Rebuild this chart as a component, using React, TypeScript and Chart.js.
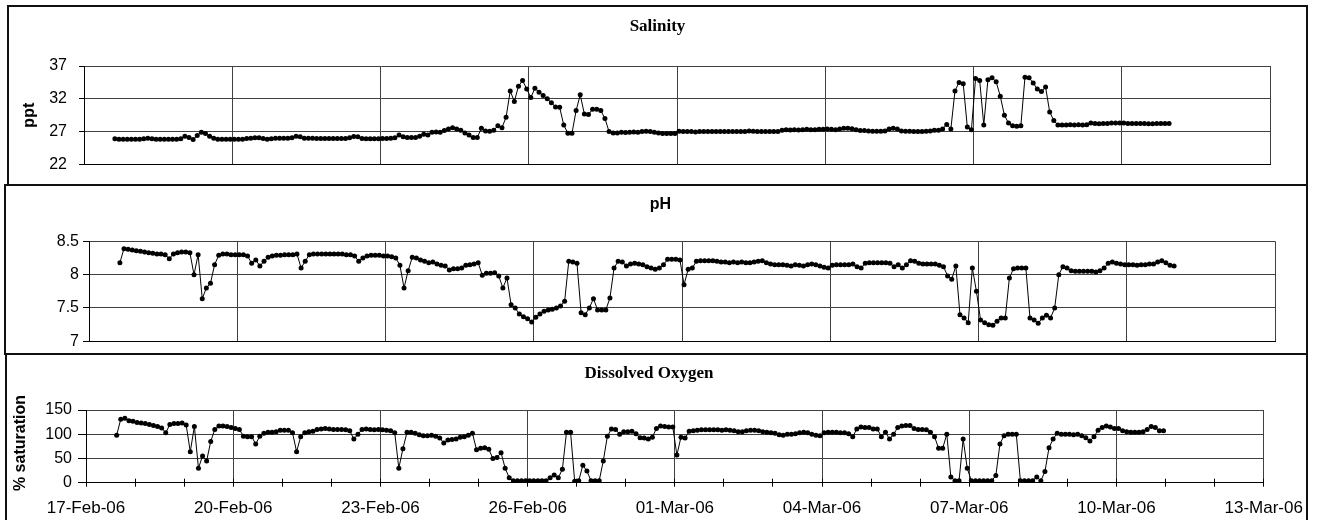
import React, { useEffect, useRef } from 'react';
import { Chart, registerables } from 'chart.js';

Chart.register(...registerables);

// Logger readings every 2 hours, first reading 17-Feb-06 15:00 (day 0.625 of the axis)
const START_DAY = 0.625;
const STEP_DAYS = 2 / 24;

const X_TICK_LABELS = ['17-Feb-06', '20-Feb-06', '23-Feb-06', '26-Feb-06', '01-Mar-06', '04-Mar-06', '07-Mar-06', '10-Mar-06', '13-Mar-06'];
const SAL_TICKS = [22, 27, 32, 37];
const PH_TICKS = [7, 7.5, 8, 8.5];
const DO_TICKS = [0, 50, 100, 150];

const TITLE_SAL = 'Salinity';
const TITLE_PH = 'pH';
const TITLE_DO = 'Dissolved Oxygen';
const YLABEL_SAL = 'ppt';
const YLABEL_DO = '% saturation';

const SALINITY = [
  25.9, 25.85, 25.85, 25.85, 25.85,
  25.85, 25.85, 25.9, 26.0, 25.9, 25.85, 25.85, 25.85, 25.85, 25.85, 25.85, 25.9,
  26.3, 26.1, 25.8, 26.4, 26.9, 26.7, 26.3, 26.0, 25.85, 25.85, 25.85, 25.85,
  25.85, 25.85, 25.85, 25.95, 26.0, 26.05, 26.05, 25.95, 25.85, 25.9, 26.0, 26.0,
  26.0, 26.0, 26.05, 26.3, 26.2, 26.0, 26.0, 26.0, 25.95, 25.95, 25.95, 25.95,
  25.95, 25.95, 25.95, 25.95, 26.05, 26.25, 26.2, 25.95, 25.9, 25.9, 25.9, 25.9,
  25.95, 25.95, 26.0, 26.05, 26.5, 26.2, 26.1, 26.1, 26.1, 26.3, 26.6, 26.5,
  26.9, 26.95, 26.9, 27.15, 27.4, 27.6, 27.4, 27.2, 26.8, 26.5, 26.1, 26.1,
  27.5, 27.1, 27.05, 27.2, 27.9, 27.6, 29.2, 33.2, 31.6, 33.9, 34.8, 33.5,
  32.2, 33.6, 33.0, 32.5, 32.0, 31.4, 30.75, 30.7, 28.0, 26.75, 26.75, 30.2,
  32.6, 29.7, 29.6, 30.4, 30.4, 30.2, 29.0, 27.0, 26.8, 26.8, 26.9, 26.85,
  26.9, 26.95, 26.9, 27.0, 27.05, 27.0, 26.9, 26.8, 26.7, 26.7, 26.7, 26.7,
  27.05, 27.0, 27.0, 27.0, 26.95, 27.0, 27.0, 27.0, 27.0, 27.0, 27.0, 27.0,
  27.0, 27.0, 27.0, 27.0, 27.0, 27.1, 27.05, 27.0, 27.0, 27.0, 27.0, 27.0,
  27.0, 27.2, 27.3, 27.25, 27.3, 27.25, 27.3, 27.35, 27.3, 27.3, 27.35, 27.35,
  27.4, 27.35, 27.3, 27.4, 27.5, 27.5, 27.45, 27.3, 27.15, 27.15, 27.1, 27.05,
  27.05, 27.05, 27.1, 27.4, 27.5, 27.4, 27.1, 27.05, 27.05, 27.0, 27.0, 27.0,
  27.05, 27.1, 27.2, 27.2, 27.4, 28.1, 27.4, 33.2, 34.5, 34.3, 27.7, 27.3,
  35.1, 34.8, 28.0, 34.9, 35.2, 34.6, 32.4, 29.5, 28.3, 27.9, 27.8, 27.9,
  35.3, 35.2, 34.4, 33.5, 33.1, 33.8, 30.0, 28.7, 28.0, 28.0, 28.0, 28.05,
  28.0, 28.05, 28.0, 28.05, 28.3, 28.25, 28.2, 28.25, 28.25, 28.3, 28.3, 28.3,
  28.3, 28.25, 28.25, 28.25, 28.25, 28.25, 28.2, 28.2, 28.25, 28.25, 28.25, 28.25,
];

const PH = [
  8.18, 8.39, 8.38, 8.37, 8.36,
  8.35, 8.34, 8.33, 8.32, 8.31, 8.31, 8.30, 8.24, 8.31, 8.33, 8.34, 8.34,
  8.33, 8.0, 8.3, 7.64, 7.8, 7.87, 8.15, 8.29, 8.31, 8.31, 8.3, 8.3,
  8.3, 8.3, 8.28, 8.17, 8.22, 8.13, 8.2, 8.26, 8.28, 8.29, 8.29, 8.3,
  8.3, 8.3, 8.31, 8.1, 8.2, 8.3, 8.31, 8.31, 8.31, 8.31, 8.31, 8.31,
  8.31, 8.31, 8.3, 8.3, 8.28, 8.2, 8.25, 8.28, 8.29, 8.29, 8.29, 8.28,
  8.28, 8.27, 8.25, 8.14, 7.8, 8.06, 8.26, 8.25, 8.22, 8.2, 8.18, 8.19,
  8.16, 8.14, 8.13, 8.07, 8.09, 8.09, 8.1, 8.14, 8.15, 8.16, 8.18, 7.99,
  8.02, 8.02, 8.03, 7.98, 7.8, 7.95, 7.55, 7.5, 7.41, 7.37, 7.34, 7.29,
  7.36, 7.41, 7.45, 7.47, 7.48, 7.5, 7.53, 7.6, 8.2, 8.19, 8.17, 7.43,
  7.4, 7.5, 7.64, 7.47, 7.47, 7.47, 7.65, 8.1, 8.2, 8.19, 8.13, 8.16,
  8.17, 8.16, 8.15, 8.12, 8.1, 8.08, 8.1, 8.15, 8.23, 8.23, 8.23, 8.22,
  7.85, 8.08, 8.1, 8.2, 8.21, 8.21, 8.21, 8.21, 8.2, 8.19, 8.19, 8.18,
  8.19, 8.18, 8.19, 8.18, 8.18, 8.19, 8.2, 8.21, 8.18, 8.16, 8.15, 8.15,
  8.15, 8.14, 8.13, 8.15, 8.14, 8.13, 8.15, 8.16, 8.15, 8.13, 8.11, 8.1,
  8.14, 8.15, 8.15, 8.15, 8.15, 8.16, 8.12, 8.1, 8.17, 8.18, 8.18, 8.18,
  8.18, 8.18, 8.17, 8.12, 8.15, 8.1, 8.15, 8.21, 8.2, 8.17, 8.16, 8.16,
  8.16, 8.16, 8.14, 8.12, 7.98, 7.93, 8.13, 7.4, 7.35, 7.28, 8.1, 7.75,
  7.32, 7.28, 7.25, 7.24, 7.3, 7.35, 7.35, 7.95, 8.09, 8.1, 8.1, 8.1,
  7.35, 7.32, 7.27, 7.35, 7.39, 7.35, 7.5, 8.0, 8.12, 8.1, 8.06, 8.05,
  8.05, 8.05, 8.05, 8.05, 8.04, 8.06, 8.1, 8.17, 8.19, 8.17, 8.16, 8.15,
  8.15, 8.15, 8.14, 8.15, 8.15, 8.16, 8.16, 8.19, 8.21, 8.18, 8.14, 8.13,
];

const DO_SAT = [
  98, 131, 133, 128, 127,
  124, 123, 122, 120, 118, 116, 113, 103, 120, 122, 122, 123,
  119, 64, 116, 30, 55, 45, 85, 110, 117, 117, 116, 114,
  112, 110, 96, 95, 95, 80, 96, 102, 104, 104, 105, 108,
  108, 108, 103, 64, 95, 103, 105, 106, 110, 111, 112, 111,
  110, 110, 110, 109, 107, 90, 100, 110, 111, 110, 109, 110,
  109, 108, 107, 103, 30, 70, 104, 104, 102, 99, 97, 97,
  98, 96, 92, 82, 88, 89, 90, 94, 95, 98, 102, 68,
  71, 72, 69, 50, 52, 62, 30, 10, 4, 4, 4, 4,
  4, 4, 4, 4, 4, 10, 16, 10, 28, 104, 104, 3,
  4, 36, 24, 4, 4, 4, 45, 96, 111, 110, 100, 105,
  105, 106, 101, 93, 92, 90, 94, 112, 117, 116, 115, 115,
  57, 94, 92, 106, 107, 108, 109, 109, 109, 109, 109, 108,
  109, 108, 107, 105, 105, 107, 108, 108, 107, 105, 104, 103,
  102, 99, 98, 100, 100, 101, 103, 104, 103, 100, 98, 97,
  103, 104, 104, 104, 103, 103, 101, 95, 111, 115, 114, 114,
  111, 111, 95, 104, 90, 100, 114, 117, 118, 118, 112, 110,
  110, 109, 104, 95, 71, 71, 100, 12, 4, 4, 90, 30,
  4, 4, 4, 4, 4, 4, 15, 80, 97, 100, 100, 100,
  4, 4, 4, 4, 12, 4, 23, 72, 90, 102, 100, 100,
  100, 99, 100, 97, 93, 86, 95, 108, 114, 117, 115, 112,
  112, 107, 105, 104, 104, 104, 105, 110, 116, 114, 107, 107,
];

const SANS = '"Liberation Sans", Arial, sans-serif';
const SERIF = '"Liberation Serif", "Times New Roman", serif';
const GRID = '#404040';

const toPoints = (vals: number[]) => vals.map((v, i) => ({ x: START_DAY + i * STEP_DAYS, y: v }));

const yTitlePlugin = {
  id: 'yTitle',
  afterDraw(chart: any, _args: any, opts: any) {
    if (!opts || !opts.text) return;
    const { ctx, chartArea } = chart;
    ctx.save();
    ctx.font = opts.font;
    ctx.fillStyle = '#000';
    ctx.textAlign = 'center';
    ctx.textBaseline = 'middle';
    ctx.translate(opts.x, (chartArea.top + chartArea.bottom) / 2 + (opts.dy || 0));
    ctx.rotate(-Math.PI / 2);
    ctx.fillText(opts.text, 0, 0);
    ctx.restore();
  },
};

const innerTicksPlugin = {
  id: 'innerTicks',
  afterDraw(chart: any, _args: any, opts: any) {
    if (!opts || !opts.length) return;
    const scale = chart.scales.x;
    const { ctx, chartArea } = chart;
    ctx.save();
    ctx.strokeStyle = '#000';
    ctx.lineWidth = 1;
    ctx.beginPath();
    scale.ticks.forEach((t: any) => {
      const px = Math.round(scale.getPixelForValue(t.value) - 0.5) + 0.5;
      ctx.moveTo(px, chartArea.bottom);
      ctx.lineTo(px, chartArea.bottom - opts.length);
    });
    ctx.stroke();
    ctx.restore();
  },
};

interface PanelSpec {
  values: number[];
  yMin: number;
  yMax: number;
  yTicks: number[];
  yWidth: number;
  yTickLen: number;
  yTickPad: number;
  xHeight: number;
  axisPadRight: number;
  layoutLeft: number;
  layoutRight: number;
  title: string;
  titleFont: any;
  titlePadTop: number;
  titlePadBottom: number;
  showXLabels: boolean;
  yTitle?: { text: string; x: number; dy: number };
}

function buildConfig(s: PanelSpec): any {
  return {
    type: 'line',
    data: {
      datasets: [
        {
          data: toPoints(s.values),
          borderColor: '#000',
          borderWidth: 1,
          pointRadius: 2.5,
          pointBackgroundColor: '#000',
          pointBorderColor: '#000',
          pointBorderWidth: 0,
          pointHoverRadius: 0,
          tension: 0,
          fill: false,
        },
      ],
    },
    options: {
      responsive: false,
      animation: false,
      events: [],
      layout: { padding: { left: s.layoutLeft, right: s.layoutRight, top: 0, bottom: 0 } },
      plugins: {
        legend: { display: false },
        tooltip: { enabled: false },
        title: {
          display: true,
          text: s.title,
          color: '#000',
          font: s.titleFont,
          padding: { top: s.titlePadTop, bottom: s.titlePadBottom },
        },
        yTitle: s.yTitle
          ? { text: s.yTitle.text, x: s.yTitle.x, dy: s.yTitle.dy, font: `bold 16px ${SANS}` }
          : { text: '' },
        innerTicks: { length: s.showXLabels ? 4 : 0 },
      },
      scales: {
        x: {
          type: 'linear',
          min: 0,
          max: 24,
          ticks: s.showXLabels
            ? {
                stepSize: 1,
                autoSkip: false,
                maxRotation: 0,
                minRotation: 0,
                color: '#000',
                padding: 11,
                font: { family: SANS, size: 17 },
                callback: (v: any) => (Number(v) % 3 === 0 ? X_TICK_LABELS[Number(v) / 3] : ''),
              }
            : { stepSize: 3, display: false },
          grid: s.showXLabels
            ? {
                color: (ctx: any) => (ctx.tick && ctx.tick.value % 3 === 0 ? GRID : 'rgba(0,0,0,0)'),
                tickColor: '#000',
                tickLength: 4,
                drawTicks: true,
                lineWidth: 1,
              }
            : { color: GRID, drawTicks: false, lineWidth: 1 },
          border: { color: '#000', width: 1 },
          afterFit: (scale: any) => {
            scale.height = s.xHeight;
            scale.paddingRight = s.axisPadRight;
            scale.paddingLeft = 0;
          },
        },
        y: {
          type: 'linear',
          min: s.yMin,
          max: s.yMax,
          afterBuildTicks: (scale: any) => {
            scale.ticks = s.yTicks.map((v) => ({ value: v }));
          },
          ticks: {
            color: '#000',
            padding: s.yTickPad,
            font: { family: SANS, size: 16 },
            callback: (v: any) => String(v),
          },
          grid: { color: GRID, tickColor: '#000', tickLength: s.yTickLen, lineWidth: 1 },
          border: { color: '#000', width: 1 },
          afterFit: (scale: any) => {
            scale.width = s.yWidth;
          },
        },
      },
    },
    plugins: [yTitlePlugin, innerTicksPlugin],
  };
}

const PANELS = [
  {
    box: { left: 7, top: 5, width: 1301, height: 181 },
    spec: {
      values: SALINITY,
      yMin: 22,
      yMax: 37,
      yTicks: SAL_TICKS,
      yWidth: 77,
      yTickLen: 5,
      yTickPad: 12,
      xHeight: 16,
      axisPadRight: 38,
      layoutLeft: 0,
      layoutRight: 0,
      title: TITLE_SAL,
      titleFont: { family: SERIF, size: 17, weight: 'bold' },
      titlePadTop: 11.8,
      titlePadBottom: 28.8,
      showXLabels: false,
      yTitle: { text: YLABEL_SAL, x: 23, dy: 0 },
    } as PanelSpec,
  },
  {
    box: { left: 4, top: 184, width: 1304, height: 171 },
    spec: {
      values: PH,
      yMin: 7,
      yMax: 8.5,
      yTicks: PH_TICKS,
      yWidth: 76,
      yTickLen: 6,
      yTickPad: 4,
      xHeight: 13.7,
      axisPadRight: 33,
      layoutLeft: 9,
      layoutRight: 0,
      title: TITLE_PH,
      titleFont: { family: SANS, size: 16, weight: 'bold' },
      titlePadTop: 11.4,
      titlePadBottom: 26.7,
      showXLabels: false,
    } as PanelSpec,
  },
  {
    box: { left: 5, top: 353, width: 1303, height: 167 },
    spec: {
      values: DO_SAT,
      yMin: 0,
      yMax: 150,
      yTicks: DO_TICKS,
      yWidth: 81,
      yTickLen: 8,
      yTickPad: 6,
      xHeight: 37.3,
      axisPadRight: 44.3,
      layoutLeft: 0,
      layoutRight: 15,
      title: TITLE_DO,
      titleFont: { family: SERIF, size: 17, weight: 'bold' },
      titlePadTop: 10.8,
      titlePadBottom: 25.8,
      showXLabels: true,
      yTitle: { text: YLABEL_DO, x: 16, dy: -3.3 },
    } as PanelSpec,
  },
];

export default function App() {
  const r0 = useRef<HTMLCanvasElement | null>(null);
  const r1 = useRef<HTMLCanvasElement | null>(null);
  const r2 = useRef<HTMLCanvasElement | null>(null);
  const refs = [r0, r1, r2];

  useEffect(() => {
    const charts: Chart[] = [];
    PANELS.forEach((p, i) => {
      const c = refs[i].current;
      if (c) charts.push(new Chart(c, buildConfig(p.spec)));
    });
    return () => charts.forEach((ch) => ch.destroy());
  }, []);

  return (
    <div
      style={{
        position: 'fixed',
        left: 0,
        top: 0,
        width: 1317,
        height: 520,
        overflow: 'hidden',
        background: '#fff',
      }}
    >
      {PANELS.map((p, i) => (
        <canvas
          key={'c' + i}
          ref={refs[i]}
          width={p.box.width}
          height={p.box.height}
          style={{
            position: 'absolute',
            left: p.box.left,
            top: p.box.top,
            width: p.box.width,
            height: p.box.height,
          }}
        />
      ))}
      {PANELS.map((p, i) => (
        <div
          key={'b' + i}
          style={{
            position: 'absolute',
            left: p.box.left,
            top: p.box.top,
            width: p.box.width,
            height: i === 2 ? 200 : p.box.height,
            border: '2px solid #111',
            boxSizing: 'border-box',
            pointerEvents: 'none',
          }}
        />
      ))}
    </div>
  );
}
